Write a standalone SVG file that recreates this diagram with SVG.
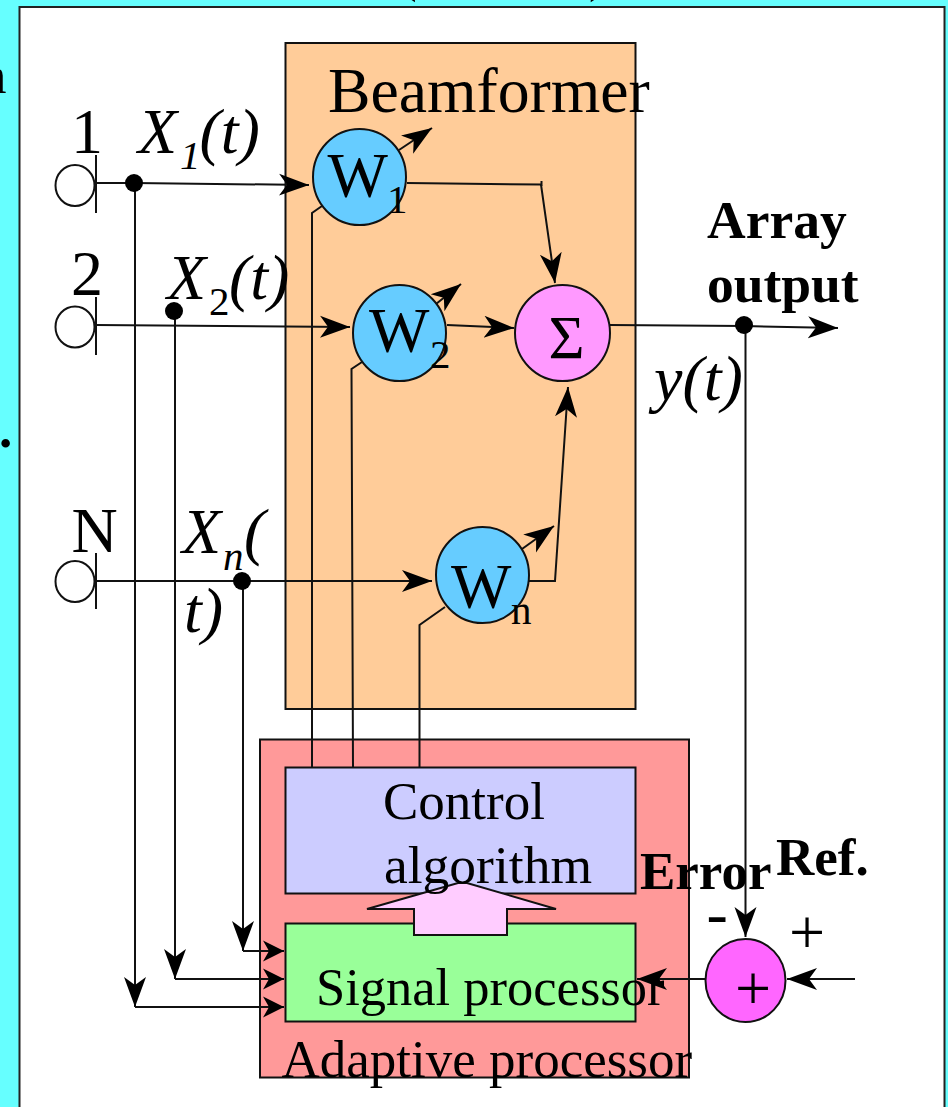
<svg xmlns="http://www.w3.org/2000/svg" width="948" height="1107" viewBox="0 0 948 1107">
<style>
text{font-family:"Liberation Serif","Times New Roman",serif;fill:#000}
.box{stroke:#111;stroke-width:2}
.c{fill:none;stroke:#111;stroke-width:2}
.i{font-style:italic}
.b{font-weight:bold}
.t64{font-size:64px}
.t53{font-size:53px}
.sub{font-size:41px}
.dot{fill:#000}
.ant{fill:#fff;stroke:#111;stroke-width:2}
.w{fill:#66ccff;stroke:#111;stroke-width:2}
</style>
<defs>
<marker id="a" markerUnits="userSpaceOnUse" markerWidth="32" markerHeight="24" refX="30" refY="11" orient="auto" viewBox="0 0 32 22"><path d="M0 0L30 11L0 22L8 11Z" fill="#000"/></marker>
<marker id="s" markerUnits="userSpaceOnUse" markerWidth="22" markerHeight="22" refX="21" refY="10.500" orient="auto" viewBox="0 0 22 21"><path d="M0 0L21 10.500L0 21L6 10.500Z" fill="#000"/></marker>
</defs>
<rect width="948" height="1107" fill="#66ffff"/>
<rect id="panel" x="19.500" y="7" width="925" height="1110" fill="#fff" stroke="#222" stroke-width="2"/>
<text class="t53" x="-20" y="93">n</text>
<text class="t53 b" x="-1" y="447">.</text>
<text class="t53" x="399" y="-9">(</text>
<text class="t53" x="589" y="-9">)</text>
<g id="beamformer"><rect class="box" x="285.500" y="43" width="350" height="666" fill="#ffcc99"/><text x="328" y="112" style="font-size:63.700px">Beamformer</text></g>
<g id="adaptive-processor"><rect class="box" x="260" y="739.500" width="429" height="338" fill="#ff9999"/></g>
<g id="control-algorithm"><rect class="box" x="285.500" y="767.500" width="350" height="126" fill="#ccccff"/></g>
<g id="signal-processor"><rect class="box" x="285.500" y="923.500" width="350" height="98" fill="#99ff99"/></g>
<g id="up-arrow"><path d="M367 909L458 883L467 883L556 909L507 909L507 935L414 935L414 909Z" fill="#ffccff" stroke="#111" stroke-width="2"/></g>
<text class="t53" x="383" y="819">Control</text>
<text x="384" y="883" style="font-size:53.500px">algorithm</text>
<text x="316" y="1005" style="font-size:52.500px">Signal processor</text>
<text class="t53" x="281.500" y="1077">Adaptive processor</text>
<g id="connectors">
<path class="c" d="M96 183L134 183L309 185" marker-end="url(#a)"/>
<path class="c" d="M96 325L350 327" marker-end="url(#a)"/>
<path class="c" d="M96 581L432 581" marker-end="url(#a)"/>
<path class="c" d="M135 183L135 1007" marker-end="url(#a)"/>
<path class="c" d="M175 310L175 979" marker-end="url(#a)"/>
<path class="c" d="M243 581L243 951" marker-end="url(#a)"/>
<path class="c" d="M135 1007L284 1007" marker-end="url(#s)"/>
<path class="c" d="M175 979L284 979" marker-end="url(#s)"/>
<path class="c" d="M243 951L284 951" marker-end="url(#s)"/>
<path class="c" d="M312 767L312 213L322 206"/>
<path class="c" d="M353 767L351.500 369L362 362"/>
<path class="c" d="M419.500 767L419.500 625L445 607"/>
<path class="c" d="M399 150L432 128" marker-end="url(#a)"/>
<path class="c" d="M436 304L461 284" marker-end="url(#a)"/>
<path class="c" d="M522 549L554 526" marker-end="url(#a)"/>
<path class="c" d="M407 183L541 184.500L555 283" marker-end="url(#a)"/>
<path class="c" d="M541.500 181V186"/>
<path class="c" d="M447 325L514 328" marker-end="url(#a)"/>
<path class="c" d="M528 581L555 581L568 387" marker-end="url(#a)"/>
<path class="c" d="M610 325L744 326L838 328" marker-end="url(#a)"/>
<path class="c" d="M745.500 326L745.500 937" marker-end="url(#a)"/>
<path class="c" d="M705 979L637 979" marker-end="url(#a)"/>
<path class="c" d="M855 979L787 979" marker-end="url(#a)"/>
<circle class="dot" cx="134" cy="183" r="9"/>
<circle class="dot" cx="174" cy="311" r="9"/>
<circle class="dot" cx="242" cy="581" r="9"/>
<circle class="dot" cx="744" cy="325" r="9"/>
</g>
<g id="sensor-1"><ellipse class="ant" cx="75" cy="185.500" rx="19.500" ry="20.500"/><path class="c" d="M96 155V213"/><text class="t64" x="71" y="153">1</text><text class="t64 i" x="138" y="153">X</text><text class="sub i" x="180" y="169">1</text><text class="t64 i" x="199.500" y="153">(t)</text></g>
<g id="sensor-2"><ellipse class="ant" cx="75" cy="327" rx="19.500" ry="20.500"/><path class="c" d="M96 297V355"/><text class="t64" x="71" y="295">2</text><text class="t64 i" x="167" y="299">X</text><text class="sub" x="209" y="315">2</text><text class="t64 i" x="229" y="299">(t)</text></g>
<g id="sensor-n"><ellipse class="ant" cx="75" cy="581.500" rx="19.500" ry="20.500"/><path class="c" d="M96 553V609"/><text class="t64" x="71.500" y="552">N</text><text class="t64 i" x="182" y="553">X</text><text class="sub i" x="223" y="570">n</text><text class="t64 i" x="244" y="553">(</text><text class="t64 i" x="184" y="632">t)</text></g>
<g id="w1"><ellipse class="w" cx="359.500" cy="177" rx="46.500" ry="48"/><text class="t64" x="327.500" y="197">W</text><text class="sub" x="387" y="213">1</text></g>
<g id="w2"><ellipse class="w" cx="399.500" cy="333" rx="46.500" ry="48"/><text class="t64" x="369" y="352">W</text><text class="sub" x="430" y="368">2</text></g>
<g id="wn"><ellipse class="w" cx="482.500" cy="575" rx="46.500" ry="48"/><text class="t64" x="451" y="608">W</text><text class="sub" x="511" y="624">n</text></g>
<g id="sum"><ellipse cx="562.500" cy="333" rx="47.500" ry="48" fill="#ff99ff" stroke="#111" stroke-width="2"/><text x="548.500" y="358" style="font-size:62px">Σ</text></g>
<g id="adder"><ellipse cx="745.500" cy="980.500" rx="40" ry="41.500" fill="#ff66ff" stroke="#111" stroke-width="2"/><text class="t64" x="735" y="1010">+</text></g>
<text class="b" x="707" y="238" style="font-size:53.500px">Array</text>
<text class="b" x="707" y="302" style="font-size:53.500px">output</text>
<text class="t64 i" x="654" y="400">y(t)</text>
<text class="t53 b" x="640" y="889">Error</text>
<text class="t53 b" x="776" y="875">Ref.</text>
<text class="t64" x="706.500" y="935">-</text>
<text class="t64" x="789" y="954">+</text>
</svg>
